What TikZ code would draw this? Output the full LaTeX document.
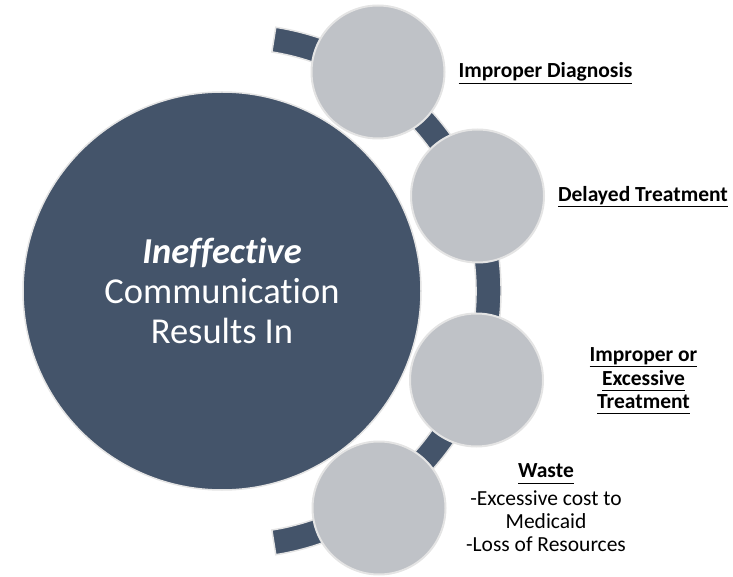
\documentclass[tikz,border=0pt]{standalone}
\usepackage{fontspec}
\setmainfont[Ligatures={NoCommon}]{Carlito}
\definecolor{slateblue}{RGB}{68,84,106}
\definecolor{lightgrey}{RGB}{191,194,199}
\definecolor{rimgrey}{RGB}{228,228,228}
\newcommand{\ulbf}[1]{\underline{\textbf{#1}\vphantom{y}}}

\begin{document}
\begin{tikzpicture}[x=1pt, y=1pt,
    mainball/.style={circle, fill=slateblue, draw=rimgrey, line width=1.5pt, minimum size=398pt, inner sep=0pt, text=white, align=center, font=\fontsize{36.5}{40}\selectfont},
    ball/.style={circle, fill=lightgrey, draw=rimgrey, line width=2pt, minimum size=133pt, inner sep=0pt},
    band/.style={fill=slateblue, draw=rimgrey, line width=1.5pt},
    lbl/.style={align=center, inner sep=0pt, font=\fontsize{21.5}{23.5}\selectfont}]
    \useasboundingbox (0,0) rectangle (733,576);

    % Band behind the circles
    \coordinate (o) at (234,285);
    \draw[band] ([shift={(-81:242)}]o) arc[start angle=-81, end angle=81, radius=242]
        -- ([shift={(81:267)}]o) arc[start angle=81, end angle=-81, radius=267] -- cycle;

    % Main circle
    \node[mainball] (main) at (222,285) {\textbf{\textit{Ineffective}}\\Communication\\Results In};

    % Outcome circles
    \node[ball] (c1) at (378,504) {};
    \node[ball] (c2) at (477.5,380) {};
    \node[ball] (c3) at (476.5,196) {};
    \node[ball] (c4) at (379,68) {};

    % Labels
    \node[lbl] (l1) at (545.5,503) {\ulbf{Improper Diagnosis}};
    \node[lbl] (l2) at (643,379) {\ulbf{Delayed Treatment}};
    \node[lbl] (l3) at (643.5,195) {\ulbf{Improper or}\\\ulbf{Excessive}\\\ulbf{Treatment}};
    \node[lbl, font=\fontsize{21.5}{23}\selectfont] (l4) at (546,68) {\ulbf{Waste}\\[5pt]-Excessive cost to\\Medicaid\\-Loss of Resources};

\end{tikzpicture}
\end{document}
